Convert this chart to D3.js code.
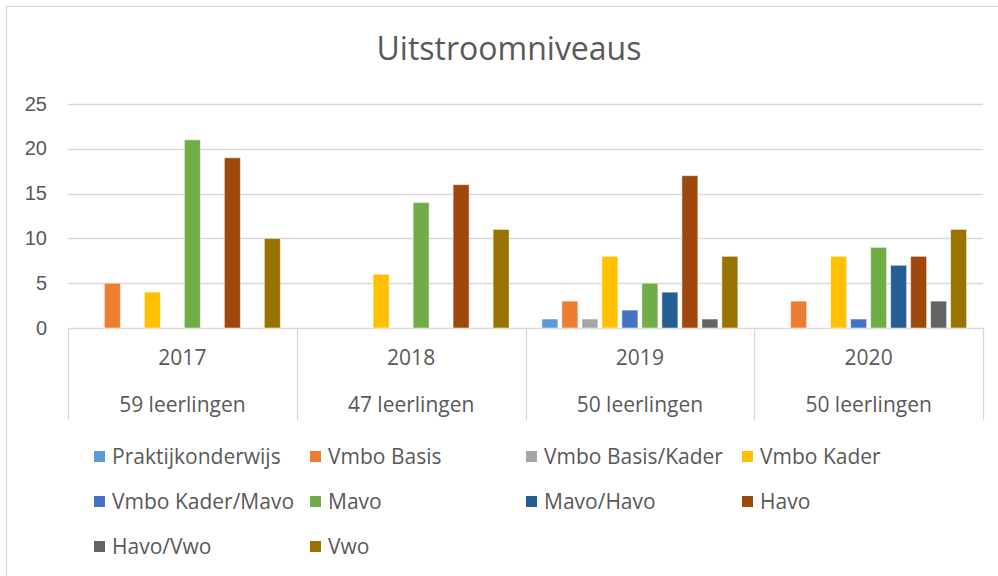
<!DOCTYPE html>
<html>
<head>
<meta charset="utf-8">
<script src="https://cdn.jsdelivr.net/npm/d3@7"></script>
<style>
  body { margin: 0; background: #fff; }
  svg { font-family: "Open Sans", sans-serif; }
  .axis text { fill: #595959; font-size: 20px; }
  .axis .domain { display: none; }
  .cat text { font-size: 21px; }
  .grid line { stroke: #d9d9d9; stroke-width: 1.3; }
</style>
</head>
<body>
<script>
// data
var years = ["2017", "2018", "2019", "2020"];
var pupils = ["59 leerlingen", "47 leerlingen", "50 leerlingen", "50 leerlingen"];
var series = ["Praktijkonderwijs", "Vmbo Basis", "Vmbo Basis/Kader", "Vmbo Kader",
              "Vmbo Kader/Mavo", "Mavo", "Mavo/Havo", "Havo", "Havo/Vwo", "Vwo"];
var colors = ["#5b9bd5", "#ed7d31", "#a5a5a5", "#ffc000", "#4472c4",
              "#70ad47", "#255e91", "#9e480e", "#636363", "#997300"];
var v2017 = [0, 5, 0, 4, 0, 21, 0, 19, 0, 10];
var v2018 = [0, 0, 0, 6, 0, 14, 0, 16, 0, 11];
var v2019 = [1, 3, 1, 8, 2, 5, 4, 17, 1, 8];
var v2020 = [0, 3, 0, 8, 1, 9, 7, 8, 3, 11];
var yTicks = [0, 5, 10, 15, 20, 25];

var values = [v2017, v2018, v2019, v2020];

var W = 998, H = 576;
var plot = {left: 68, right: 983, top: 104, bottom: 328};

var svg = d3.select("body").append("svg")
    .attr("width", W)
    .attr("height", H);

// chart border
svg.append("rect")
    .attr("x", 6.5).attr("y", 6.5)
    .attr("width", W + 20).attr("height", H + 20)
    .attr("fill", "none")
    .attr("stroke", "#d9d9d9")
    .attr("stroke-width", 1.3);

svg.append("text")
    .attr("x", 509)
    .attr("y", 60)
    .attr("text-anchor", "middle")
    .style("font-size", "32px")
    .style("fill", "#595959")
    .text("Uitstroomniveaus");

var x0 = d3.scaleBand()
    .domain(years)
    .range([plot.left, plot.right]);

var x1 = d3.scaleBand()
    .domain(series)
    .range([0, x0.bandwidth()])
    .paddingInner(0.2)
    .paddingOuter(0.82);

var y = d3.scaleLinear()
    .domain([0, 25])
    .range([plot.bottom, plot.top]);

var yAxis = d3.axisLeft(y)
    .tickValues(yTicks)
    .tickSize(0)
    .tickPadding(21);

svg.append("g")
    .attr("class", "axis")
    .attr("transform", "translate(" + plot.left + ",0)")
    .call(yAxis)
    .selectAll("text")
    .attr("dy", "0.3em");

svg.append("g")
    .attr("class", "grid")
    .selectAll("line")
    .data(yTicks)
  .enter().append("line")
    .attr("x1", plot.left)
    .attr("x2", plot.right)
    .attr("y1", function(d) { return Math.round(y(d)) + 0.5; })
    .attr("y2", function(d) { return Math.round(y(d)) + 0.5; });

// category separators (two level axis)
var seps = years.map(function(d) { return x0(d); }).concat([plot.right]);
svg.append("g")
    .attr("class", "grid")
    .selectAll("line")
    .data(seps)
  .enter().append("line")
    .attr("x1", function(d) { return Math.round(d) + 0.5; })
    .attr("x2", function(d) { return Math.round(d) + 0.5; })
    .attr("y1", plot.bottom)
    .attr("y2", 420);

var groups = svg.selectAll(".year")
    .data(years)
  .enter().append("g")
    .attr("class", "year")
    .attr("transform", function(d) { return "translate(" + x0(d) + ",0)"; });

groups.selectAll("rect")
    .data(function(d, i) {
      return series.map(function(s, j) { return {key: s, value: values[i][j], color: colors[j]}; })
        .filter(function(e) { return e.value > 0; });
    })
  .enter().append("rect")
    .attr("x", function(d) { return x1(d.key); })
    .attr("width", x1.bandwidth())
    .attr("y", function(d) { return y(d.value); })
    .attr("height", function(d) { return y(0) - y(d.value); })
    .attr("fill", function(d) { return d.color; })
    .attr("stroke", "#fff")
    .attr("stroke-opacity", 0.5)
    .attr("stroke-width", 1);

var labels = svg.append("g").attr("class", "axis cat");

labels.selectAll(".yr")
    .data(years)
  .enter().append("text")
    .attr("x", function(d) { return x0(d) + x0.bandwidth() / 2; })
    .attr("y", 365)
    .attr("text-anchor", "middle")
    .text(function(d) { return d; });

labels.selectAll(".pp")
    .data(pupils)
  .enter().append("text")
    .attr("x", function(d, i) { return x0(years[i]) + x0.bandwidth() / 2; })
    .attr("y", 412)
    .attr("text-anchor", "middle")
    .text(function(d) { return d; });

// legend, 4 columns
var legend = svg.append("g")
    .selectAll("g")
    .data(series)
  .enter().append("g")
    .attr("transform", function(d, i) {
      return "translate(" + (94 + (i % 4) * 216) + "," + (457 + Math.floor(i / 4) * 45) + ")";
    });

legend.append("rect")
    .attr("x", 0)
    .attr("y", -6)
    .attr("width", 11)
    .attr("height", 11)
    .attr("fill", function(d, i) { return colors[i]; });

legend.append("text")
    .attr("x", 18)
    .attr("y", 0)
    .attr("dy", "0.35em")
    .style("font-size", "21px")
    .style("fill", "#595959")
    .text(function(d) { return d; });
</script>
</body>
</html>
